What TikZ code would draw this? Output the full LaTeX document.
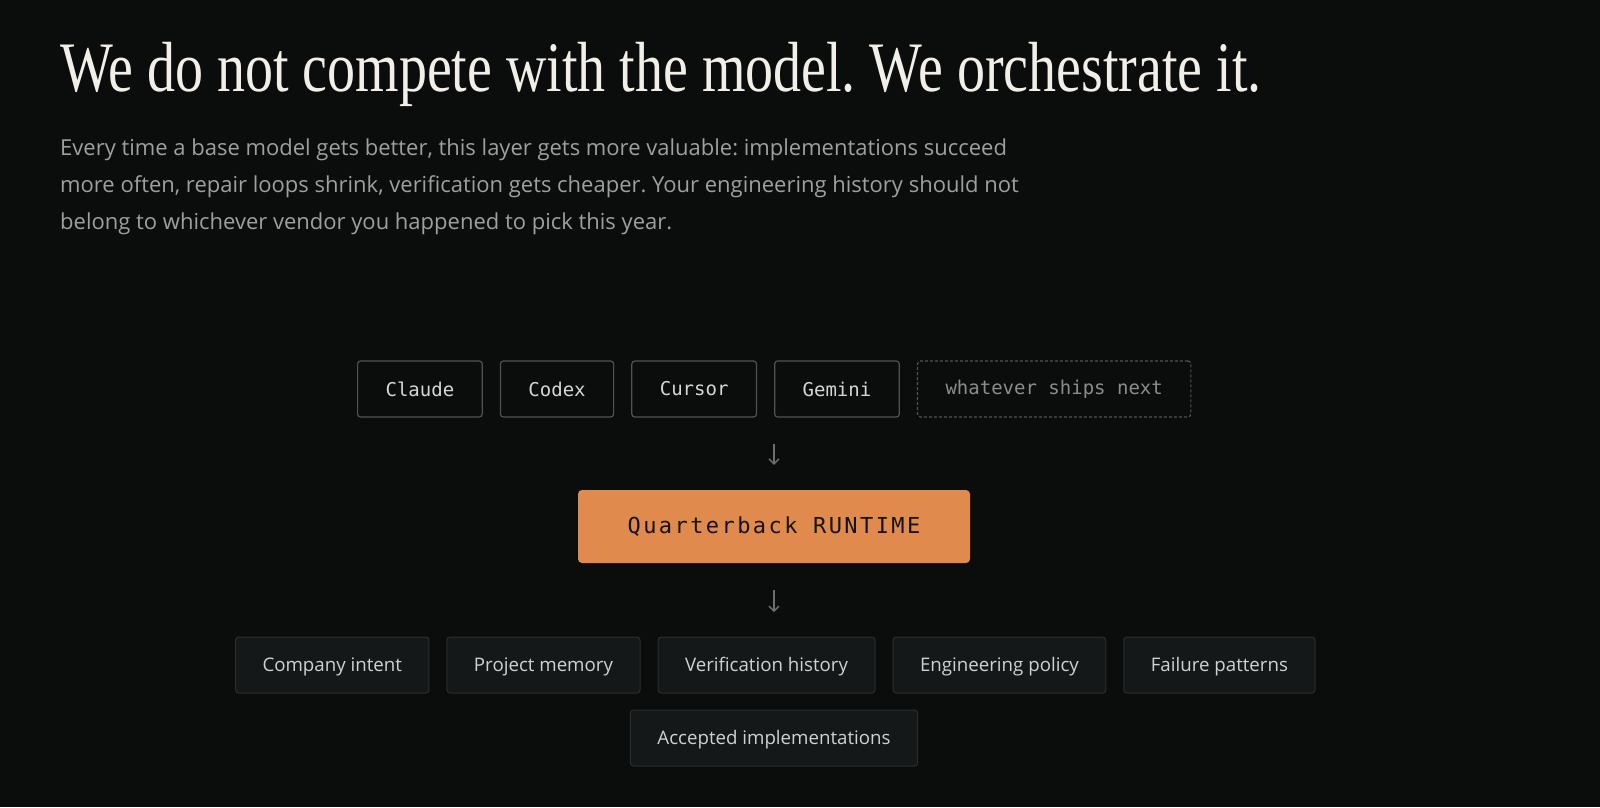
\documentclass[tikz,border=0pt]{standalone}
\usepackage{fontspec}
\setmainfont{Liberation Serif}
\setsansfont{Open Sans}
\setmonofont{DejaVu Sans Mono}
\newfontfamily\runtimefont[LetterSpace=11]{DejaVu Sans Mono}
\usetikzlibrary{positioning,arrows.meta}

\definecolor{pagebg}{RGB}{11,12,12}
\definecolor{titlewhite}{RGB}{242,239,232}
\definecolor{leadgray}{RGB}{158,160,160}
\definecolor{vendorline}{RGB}{80,83,83}
\definecolor{vendortext}{RGB}{214,214,214}
\definecolor{nexttext}{RGB}{140,140,140}
\definecolor{runtimeorange}{RGB}{224,138,77}
\definecolor{runtimetext}{RGB}{22,18,14}
\definecolor{arrowgray}{RGB}{110,110,110}
\definecolor{storefill}{RGB}{21,24,24}
\definecolor{storeline}{RGB}{42,46,46}
\definecolor{storetext}{RGB}{208,210,210}

\tikzset{
  vendor/.style={draw=vendorline, fill=pagebg, rounded corners=3pt, line width=1.2pt,
    minimum height=56pt, inner xsep=28pt, text=vendortext,
    font=\ttfamily\fontsize{19}{19}\selectfont},
  nextvendor/.style={vendor, dashed, dash pattern=on 3pt off 2pt, text=nexttext},
  runtime/.style={fill=runtimeorange, rounded corners=4pt, minimum width=392pt,
    minimum height=73pt, text=runtimetext, font=\runtimefont\fontsize{22}{22}\selectfont},
  store/.style={draw=storeline, fill=storefill, rounded corners=3pt, line width=1pt,
    minimum height=56pt, inner xsep=27pt, text height=14pt, text depth=2pt, text=storetext,
    font=\sffamily\fontsize{18.7}{18.7}\selectfont},
  flow/.style={draw=arrowgray, line width=1.3pt, -{Straight Barb[length=5pt,width=10pt]}}
}

\begin{document}
\frenchspacing
\begin{tikzpicture}[x=1pt,y=-1pt]
\useasboundingbox (0,0) rectangle (1600,807);
\fill[pagebg] (0,0) rectangle (1600,807);

% heading and lead text
\node[anchor=base west, inner sep=0, text=titlewhite, font=\fontsize{71}{71}\selectfont]
  (title) at (60,91) {\scalebox{0.788}[1]{We do not compete with the model. We orchestrate it.}};
\node[anchor=north west, inner sep=0, align=left, text=leadgray,
  font=\sffamily\fontsize{22}{37}\selectfont] (lead) at (60,138.5)
  {Every time a base model gets better, this layer gets more valuable: implementations succeed\\
   more often, repair loops shrink, verification gets cheaper. Your engineering history should not\\
   belong to whichever vendor you happened to pick this year.};

% model vendors
\node[vendor, anchor=west] (claude) at (357,389) {Claude};
\node[vendor, right=17pt of claude] (codex) {Codex};
\node[vendor, right=17pt of codex] (cursor) {Cursor};
\node[vendor, right=17pt of cursor] (gemini) {Gemini};
\node[nextvendor, right=17pt of gemini] (next) {whatever ships next};

% runtime
\node[runtime] (qb) at (774,526.5) {Quarterback RUNTIME};

% what the runtime keeps
\node[store, anchor=west] (intent) at (235,665) {Company intent};
\node[store, right=17pt of intent] (memory) {Project memory};
\node[store, right=17pt of memory] (history) {Verification history};
\node[store, right=17pt of history] (policy) {Engineering policy};
\node[store, right=17pt of policy] (failures) {Failure patterns};
\node[store] (accepted) at (774,738) {Accepted implementations};

\coordinate (vendorsbottom) at (774,417);
\coordinate (storestop) at (774,637);
\draw[flow, shorten <=27pt, shorten >=25pt] (vendorsbottom) -- (qb.north);
\draw[flow, shorten <=27pt, shorten >=25pt] (qb.south) -- (storestop);
\end{tikzpicture}
\end{document}
